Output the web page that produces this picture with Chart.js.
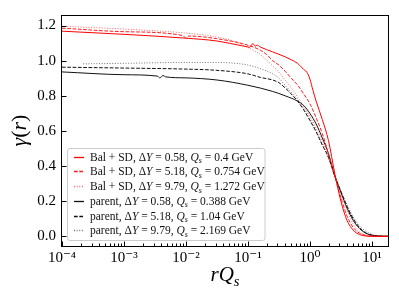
<!DOCTYPE html>
<html><head><meta charset="utf-8">
<script src="https://cdn.jsdelivr.net/npm/chart.js@4"></script>
<style>html,body{margin:0;padding:0;background:#fff;overflow:hidden}</style>
</head><body>
<canvas id="c" width="399" height="299"></canvas>
<script>
// ---- tick labels ----
const xTickExps = [-4, -3, -2, -1, 0, 1];
const xTickLabels = ['10\u207B\u2074', '10\u207B\u00B3', '10\u207B\u00B2', '10\u207B\u00B9', '10\u2070', '10\u00B9'];
const yTickValues = [0.0, 0.2, 0.4, 0.6, 0.8, 1.0, 1.2];
const yTickLabels = ['0.0', '0.2', '0.4', '0.6', '0.8', '1.0', '1.2'];

// ---- legend labels ----
const seriesLabels = [
  'Bal + SD, \u0394Y = 0.58, Q\u209B = 0.4 GeV',
  'Bal + SD, \u0394Y = 5.18, Q\u209B = 0.754 GeV',
  'Bal + SD, \u0394Y = 9.79, Q\u209B = 1.272 GeV',
  'parent, \u0394Y = 0.58, Q\u209B = 0.388 GeV',
  'parent, \u0394Y = 5.18, Q\u209B = 1.04 GeV',
  'parent, \u0394Y = 9.79, Q\u209B = 2.169 GeV'
];

// ---- series: r (x) and gamma (y) ----
const balA_r = [1e-4, 1e-3, 0.01, 0.0316, 0.0794, 0.1, 0.107, 0.120, 0.132, 0.141, 0.158, 0.251, 0.398, 0.501, 0.631, 0.708, 0.794, 0.891, 1, 1.122, 1.259, 1.585, 1.995, 2.512, 3.162, 3.981, 5.012, 6.31, 7.943, 10, 18.2];
const balA_y = [1.168, 1.150, 1.128, 1.112, 1.085, 1.078, 1.076, 1.097, 1.083, 1.089, 1.078, 1.050, 1.022, 1.005, 0.985, 0.968, 0.950, 0.935, 0.895, 0.830, 0.770, 0.665, 0.545, 0.360, 0.200, 0.090, 0.035, 0.010, 0.002, 0.0, 0.0];

const balB_r = [1e-4, 1e-3, 0.0089, 0.01, 0.0112, 0.0316, 0.1, 0.158, 0.2, 0.251, 0.316, 0.398, 0.501, 0.631, 0.794, 1, 1.259, 1.585, 1.995, 2.512, 3.162, 3.981, 5.012, 6.31, 7.943, 10, 18.2];
const balB_y = [1.185, 1.165, 1.143, 1.128, 1.140, 1.125, 1.088, 1.060, 1.035, 1.000, 0.975, 0.940, 0.900, 0.862, 0.810, 0.755, 0.675, 0.585, 0.470, 0.345, 0.220, 0.115, 0.050, 0.018, 0.005, 0.001, 0.0];

const balC_r = [1e-4, 1e-3, 0.01, 0.0316, 0.0631, 0.1, 0.158, 0.251, 0.316, 0.398, 0.501, 0.631, 0.794, 1, 1.259, 1.585, 1.995, 2.512, 3.162, 3.981, 5.012, 6.31, 7.943, 10, 18.2];
const balC_y = [1.196, 1.180, 1.157, 1.135, 1.108, 1.075, 1.035, 0.970, 0.935, 0.890, 0.845, 0.795, 0.740, 0.685, 0.615, 0.540, 0.440, 0.345, 0.245, 0.150, 0.070, 0.025, 0.007, 0.001, 0.0];

const parA_r = [1e-4, 1e-3, 0.00347, 0.0038, 0.00427, 0.00468, 0.01, 0.0316, 0.1, 0.251, 0.398, 0.631, 0.794, 1, 1.259, 1.585, 1.995, 2.512, 3.162, 3.981, 5.012, 6.31, 7.943, 10, 12.59, 18.2];
const parA_y = [0.936, 0.920, 0.912, 0.902, 0.916, 0.908, 0.902, 0.890, 0.860, 0.825, 0.800, 0.770, 0.745, 0.700, 0.640, 0.560, 0.470, 0.345, 0.250, 0.160, 0.090, 0.045, 0.018, 0.006, 0.002, 0.0];

const parB_r = [1e-4, 1e-3, 0.01, 0.0316, 0.1, 0.158, 0.251, 0.316, 0.398, 0.501, 0.631, 0.794, 1, 1.259, 1.585, 1.995, 2.512, 3.162, 3.981, 5.012, 6.31, 7.943, 10, 12.59, 18.2];
const parB_y = [0.963, 0.958, 0.952, 0.945, 0.925, 0.905, 0.890, 0.875, 0.845, 0.810, 0.770, 0.720, 0.660, 0.595, 0.520, 0.450, 0.345, 0.255, 0.170, 0.100, 0.050, 0.020, 0.007, 0.002, 0.0];

const parC_r = [2.19e-4, 1e-3, 0.01, 0.0316, 0.0631, 0.1, 0.158, 0.251, 0.316, 0.398, 0.501, 0.631, 0.794, 1, 1.259, 1.585, 1.995, 2.512, 3.162, 3.981, 5.012, 6.31, 7.943, 10, 12.59, 18.2];
const parC_y = [0.982, 0.985, 0.990, 0.990, 0.985, 0.975, 0.955, 0.925, 0.900, 0.860, 0.820, 0.780, 0.730, 0.670, 0.600, 0.520, 0.450, 0.345, 0.260, 0.180, 0.110, 0.060, 0.030, 0.012, 0.004, 0.001];

const seriesR = [balA_r, balB_r, balC_r, parA_r, parB_r, parC_r];
const seriesY = [balA_y, balB_y, balC_y, parA_y, parB_y, parC_y];
const seriesColor = ['#ff0000', '#ff1a1a', 'rgba(255,0,0,0.6)', '#111111', '#111111', 'rgba(0,0,0,0.55)'];
const seriesDash = [[], [3.7, 1.6], [1, 1.65], [], [3.7, 1.6], [1, 1.65]];

const SERIF = '"Liberation Serif", "DejaVu Serif", serif';

function drawRich(ctx, str, x, y, size, italicChars) {
  let cx = x;
  for (const ch of str) {
    let c = ch, dy = 0, font = `${size}px ${SERIF}`;
    if (italicChars.includes(ch)) font = `italic ${size}px ${SERIF}`;
    if (ch === '\u209B') { c = 's'; dy = size * 0.22; font = `italic ${size * 0.7}px ${SERIF}`; }
    ctx.font = font;
    ctx.fillText(c, cx, y + dy);
    cx += ctx.measureText(c).width;
  }
  return cx - x;
}
function measureRich(ctx, str, size, italicChars) {
  let w = 0;
  for (const ch of str) {
    let c = ch, font = `${size}px ${SERIF}`;
    if (italicChars.includes(ch)) font = `italic ${size}px ${SERIF}`;
    if (ch === '\u209B') { c = 's'; font = `italic ${size * 0.7}px ${SERIF}`; }
    ctx.font = font;
    w += ctx.measureText(c).width;
  }
  return w;
}

const decor = {
  id: 'decor',
  afterDatasetsDraw(chart) {
    const { ctx, chartArea: a, scales: { x, y } } = chart;
    ctx.save();
    // ticks (inward)
    ctx.strokeStyle = '#000';
    ctx.lineWidth = 1;
    ctx.beginPath();
    x.ticks.forEach(t => {
      const v = t.value;
      const e = Math.floor(Math.log10(v) + 1e-9);
      const m = v / Math.pow(10, e);
      const rm = Math.round(m);
      if (Math.abs(m - rm) > 1e-6 || rm < 1 || rm > 9) return;
      const px = Math.round(x.getPixelForValue(v)) + 0.5;
      const len = rm === 1 ? 4.5 : 2.5;
      ctx.moveTo(px, a.bottom); ctx.lineTo(px, a.bottom - len);
    });
    y.ticks.forEach(t => {
      const py = Math.round(y.getPixelForValue(t.value)) + 0.5;
      ctx.moveTo(a.left, py); ctx.lineTo(a.left + 4.5, py);
    });
    ctx.stroke();
    // legend
    const lx = 67.5, ly = 148.5, lw = 197.5, lh = 92;
    ctx.beginPath();
    ctx.roundRect(lx, ly, lw, lh, 2.5);
    ctx.fillStyle = 'rgba(255,255,255,0.8)';
    ctx.fill();
    ctx.strokeStyle = '#cccccc';
    ctx.lineWidth = 1;
    ctx.stroke();
    chart.data.datasets.forEach((ds, i) => {
      const yc = 156.7 + i * 14.7;
      ctx.beginPath();
      ctx.strokeStyle = seriesColor[i];
      ctx.lineWidth = 1.3;
      ctx.setLineDash(seriesDash[i]);
      ctx.moveTo(74, Math.round(yc) + 0.5); ctx.lineTo(84, Math.round(yc) + 0.5);
      ctx.stroke();
      ctx.setLineDash([]);
      ctx.fillStyle = '#111';
      ctx.textBaseline = 'alphabetic';
      ctx.textAlign = 'left';
      drawRich(ctx, ds.label, 90, yc + 4, 11.5, ['Y', 'Q']);
    });
    // frame
    ctx.strokeStyle = '#000';
    ctx.lineWidth = 1;
    ctx.strokeRect(Math.round(a.left) - 0.5, Math.round(a.top) + 0.5, Math.round(a.right - a.left) + 1, Math.round(a.bottom - a.top));
    // axis titles
    ctx.fillStyle = '#000';
    ctx.textBaseline = 'alphabetic';
    ctx.textAlign = 'left';
    const xt = 'rQ\u209B';
    const xw = measureRich(ctx, xt, 21, ['r', 'Q']);
    drawRich(ctx, xt, (a.left + a.right) / 2 - xw / 2, 281, 21, ['r', 'Q']);
    const yt = '\u03B3(r)';
    const yw = measureRich(ctx, yt, 22, ['\u03B3', 'r']);
    ctx.translate(26, (a.top + a.bottom) / 2);
    ctx.rotate(-Math.PI / 2);
    drawRich(ctx, yt, -yw / 2, 0, 22, ['\u03B3', 'r']);
    ctx.restore();
  }
};

new Chart(document.getElementById('c'), {
  type: 'line',
  data: {
    datasets: seriesR.map((rs, i) => ({
      label: seriesLabels[i],
      data: rs.map((r, j) => ({ x: r, y: seriesY[i][j] })),
      borderColor: seriesColor[i],
      borderDash: seriesDash[i],
      borderWidth: 1,
      pointRadius: 0,
      fill: false,
      cubicInterpolationMode: 'monotone'
    }))
  },
  options: {
    responsive: false,
    animation: false,
    devicePixelRatio: 1,
    layout: { padding: { top: 9, right: 11, left: 0, bottom: 0 } },
    plugins: { legend: { display: false }, tooltip: { enabled: false } },
    scales: {
      x: {
        type: 'logarithmic',
        min: 1e-4, max: 18.2,
        grid: { display: false, drawTicks: false },
        border: { display: false },
        ticks: {
          autoSkip: false, maxRotation: 0, minRotation: 0, padding: 3, color: '#000',
          font: { family: SERIF, size: 15 },
          callback: (v) => {
            const e = Math.round(Math.log10(v));
            if (Math.abs(v - Math.pow(10, e)) > 1e-9 * Math.pow(10, e)) return '';
            const k = xTickExps.indexOf(e);
            return k >= 0 ? xTickLabels[k] : '';
          }
        },
        afterFit: (s) => { s.height = 53; }
      },
      y: {
        min: -0.055, max: 1.26,
        grid: { display: false, drawTicks: false },
        border: { display: false },
        afterBuildTicks: (s) => { s.ticks = yTickValues.map(v => ({ value: v })); },
        ticks: {
          padding: 6, color: '#000',
          font: { family: SERIF, size: 15 },
          callback: (v) => { const k = yTickValues.findIndex(t => Math.abs(t - v) < 1e-9); return k >= 0 ? yTickLabels[k] : ''; }
        },
        afterFit: (s) => { s.width = 62; }
      }
    }
  },
  plugins: [decor]
});
</script>
</body></html>
